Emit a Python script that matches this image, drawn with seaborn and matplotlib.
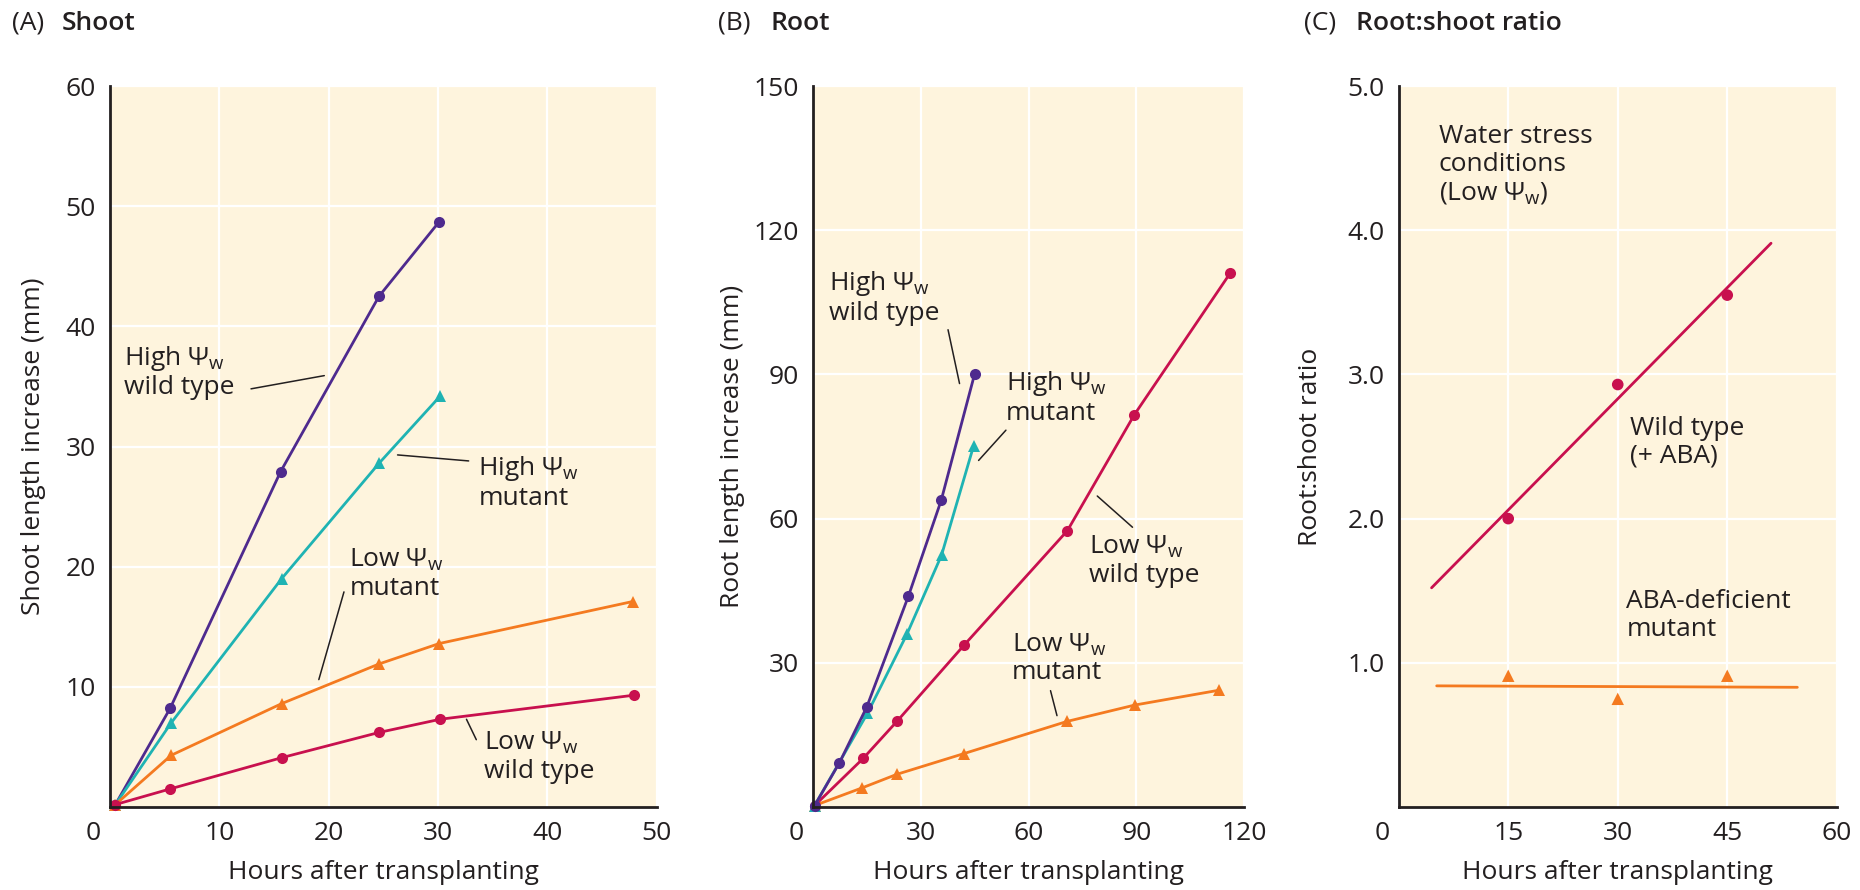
import matplotlib
matplotlib.use("Agg")
import matplotlib.pyplot as plt
import matplotlib.transforms as mtransforms
import pandas as pd
import seaborn as sns

# === DATA ===
# (A) Shoot length increase (mm) vs hours after transplanting
shoot_hours_hi_wt = [0.5, 5.5, 15.6, 24.6, 30.1]
shoot_hi_wt = [0.2, 8.2, 27.9, 42.5, 48.7]
shoot_hours_hi_mut = [0.5, 5.6, 15.7, 24.6, 30.2]
shoot_hi_mut = [0.2, 7.0, 19.0, 28.6, 34.2]
shoot_hours_lo_mut = [0.5, 5.6, 15.7, 24.6, 30.1, 47.8]
shoot_lo_mut = [0.2, 4.3, 8.6, 11.9, 13.6, 17.1]
shoot_hours_lo_wt = [0.5, 5.5, 15.7, 24.6, 30.2, 47.9]
shoot_lo_wt = [0.2, 1.5, 4.1, 6.2, 7.3, 9.3]

# (B) Root length increase (mm)
root_hours_hi_wt = [0.5, 7.4, 15.0, 26.6, 35.7, 45.0]
root_hi_wt = [0.3, 9.2, 20.8, 43.9, 63.8, 90.1]
root_hours_hi_mut = [0.5, 15.2, 26.2, 35.8, 44.7]
root_hi_mut = [0.3, 19.5, 36.0, 52.4, 75.1]
root_hours_lo_wt = [0.5, 14.0, 23.5, 42.1, 70.8, 89.4, 116.0]
root_lo_wt = [0.3, 10.1, 17.9, 33.7, 57.5, 81.6, 111.0]
root_hours_lo_mut = [0.5, 13.8, 23.4, 42.0, 70.7, 89.5, 113.0]
root_lo_mut = [0.3, 4.0, 6.8, 11.1, 17.8, 21.2, 24.3]

# (C) Root:shoot ratio under water stress
ratio_hours = [15, 30, 45]
ratio_wt = [2.0, 2.93, 3.55]
ratio_mut = [0.91, 0.75, 0.91]
fit_wt_hours = [4.5, 51.0]
fit_wt = [1.52, 3.91]
fit_mut_hours = [5.2, 54.6]
fit_mut = [0.84, 0.83]

# === STYLE ===
PURPLE = "#4E2A8E"
TEAL = "#1FB3B3"
ORANGE = "#F47A20"
CRIMSON = "#C8104E"
BG = "#FEF4DD"
INK = "#231F20"
FS = 19

sns.set_theme(style="white")
plt.rcParams["font.family"] = ["Open Sans", "DejaVu Sans"]
plt.rcParams["mathtext.fontset"] = "custom"
plt.rcParams["mathtext.rm"] = "Open Sans"
plt.rcParams["mathtext.it"] = "Open Sans:italic"
plt.rcParams["mathtext.bf"] = "Open Sans:bold"
plt.rcParams["text.color"] = INK

PSI = r"$\mathit{Ψ}_{\mathrm{w}}$"

fig = plt.figure(figsize=(18.6, 8.9), dpi=100)
axA = fig.add_axes([0.0591, 0.0933, 0.294, 0.810])
axB = fig.add_axes([0.437, 0.0933, 0.232, 0.810])
axC = fig.add_axes([0.752, 0.0933, 0.2355, 0.810])


def style_axes(ax, xlim, ylim, xticks, yticks, ylabel, ylab_x, yfmt="{:g}"):
    ax.set_facecolor(BG)
    ax.set_xlim(xlim)
    ax.set_ylim(ylim)
    ax.set_xticks(xticks)
    ax.set_xticklabels([f"{t:g}" for t in xticks])
    ax.set_yticks(yticks)
    ax.set_yticklabels([yfmt.format(t) for t in yticks])
    ax.grid(True, color="white", linewidth=1.6)
    ax.set_axisbelow(True)
    for s in ["top", "right"]:
        ax.spines[s].set_visible(False)
    for s in ["left", "bottom"]:
        ax.spines[s].set_color(INK)
        ax.spines[s].set_linewidth(2)
    ax.tick_params(direction="in", length=10, width=1.8, colors=INK,
                   labelsize=FS, pad=10)
    ax.set_xlabel("Hours after transplanting", fontsize=FS, color=INK)
    ax.xaxis.set_label_coords(0.5, -0.074)
    ax.set_ylabel(ylabel, fontsize=FS, color=INK)
    ax.yaxis.set_label_coords(ylab_x, 0.5)
    # corner "0" sits a little left of the axis
    shift = mtransforms.ScaledTranslation(-0.17, 0, fig.dpi_scale_trans)
    lab0 = ax.get_xticklabels()[0]
    lab0.set_transform(lab0.get_transform() + shift)


def series(ax, x, y, color, marker, ms):
    df = pd.DataFrame({"x": x, "y": y})
    sns.lineplot(data=df, x="x", y="y", ax=ax, color=color, marker=marker,
                 markersize=ms, markeredgewidth=0, linewidth=2,
                 estimator=None, sort=False, clip_on=False)


def notes(ax, items, fs=FS):
    for text, txy, *line in items:
        ax.text(txy[0], txy[1], text, fontsize=fs, ha="left", va="center",
                linespacing=1.15, color=INK)
        if line:
            (x0, y0), (x1, y1) = line
            ax.plot([x0, x1], [y0, y1], color=INK, linewidth=1.1)


# === (A) SHOOT ===
series(axA, shoot_hours_hi_wt, shoot_hi_wt, PURPLE, "o", 8)
series(axA, shoot_hours_hi_mut, shoot_hi_mut, TEAL, "^", 9)
series(axA, shoot_hours_lo_mut, shoot_lo_mut, ORANGE, "^", 9)
series(axA, shoot_hours_lo_wt, shoot_lo_wt, CRIMSON, "o", 8)
style_axes(axA, (0, 50), (0, 60), [0, 10, 20, 30, 40, 50],
           [10, 20, 30, 40, 50, 60], "Shoot length increase (mm)", -0.117)
notes(axA, [
    ("High " + PSI + "\nwild type", (1.3, 36.2), (12.9, 34.8), (19.6, 35.9)),
    ("High " + PSI + "\nmutant", (33.7, 27.0), (32.8, 28.8), (26.3, 29.3)),
    ("Low " + PSI + "\nmutant", (21.9, 19.4), (21.4, 17.9), (19.1, 10.6)),
    ("Low " + PSI + "\nwild type", (34.2, 4.2), (33.5, 5.6), (32.6, 7.3)),
])

# === (B) ROOT ===
series(axB, root_hours_lo_mut, root_lo_mut, ORANGE, "^", 9)
series(axB, root_hours_lo_wt, root_lo_wt, CRIMSON, "o", 8)
series(axB, root_hours_hi_mut, root_hi_mut, TEAL, "^", 9)
series(axB, root_hours_hi_wt, root_hi_wt, PURPLE, "o", 8)
style_axes(axB, (0, 120), (0, 150), [0, 30, 60, 90, 120],
           [30, 60, 90, 120, 150], "Root length increase (mm)", -0.157)
notes(axB, [
    ("High " + PSI + "\nwild type", (4.6, 106.0), (37.6, 99.3), (40.8, 88.1)),
    ("High " + PSI + "\nmutant", (53.7, 85.2), (53.7, 78.4), (46.1, 72.1)),
    ("Low " + PSI + "\nwild type", (76.8, 51.2), (88.9, 58.2), (79.1, 64.7)),
    ("Low " + PSI + "\nmutant", (55.3, 30.9), (66.1, 24.2), (67.9, 19.0)),
])

# === (C) ROOT:SHOOT RATIO ===
sns.lineplot(x=fit_wt_hours, y=fit_wt, ax=axC, color=CRIMSON, linewidth=2)
sns.lineplot(x=fit_mut_hours, y=fit_mut, ax=axC, color=ORANGE, linewidth=2)
sns.scatterplot(x=ratio_hours, y=ratio_wt, ax=axC, color=CRIMSON, marker="o",
                s=70, edgecolor="none", zorder=3)
sns.scatterplot(x=ratio_hours, y=ratio_mut, ax=axC, color=ORANGE, marker="^",
                s=80, edgecolor="none", zorder=3)
style_axes(axC, (0, 60), (0, 5), [0, 15, 30, 45, 60],
           [1, 2, 3, 4, 5], "Root:shoot ratio", -0.173, yfmt="{:.1f}")
notes(axC, [
    ("Water stress\nconditions\n(Low " + PSI + ")", (5.5, 4.45)),
    ("Wild type\n(+ ABA)", (31.7, 2.53)),
    ("ABA-deficient\nmutant", (31.2, 1.33)),
])

# === PANEL TITLES ===
title_y = 1 - 23 / 890
for x_tag, x_name, tag, name in [(12, 62, "(A)", "Shoot"),
                                 (718, 770, "(B)", "Root"),
                                 (1304, 1356, "(C)", "Root:shoot ratio")]:
    fig.text(x_tag / 1860, title_y, tag, fontsize=19, va="center", ha="left")
    fig.text(x_name / 1860, title_y, name, fontsize=19, va="center",
             ha="left", fontweight="semibold")

fig.savefig("out.png", dpi=100)
